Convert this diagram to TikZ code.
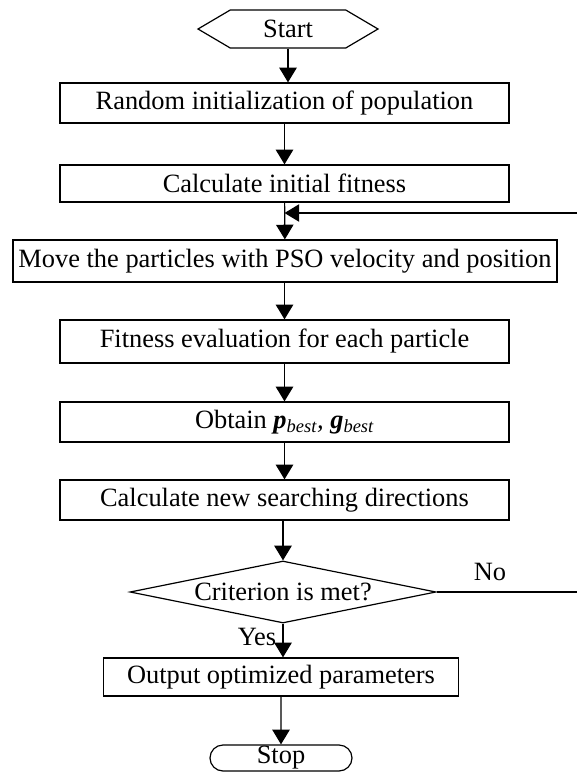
\documentclass[tikz,border=0pt]{standalone}
\usepackage{fontspec}
\setmainfont{Liberation Serif}
\usetikzlibrary{arrows.meta,shapes.geometric,shapes.misc,shapes.symbols,positioning}

\newcommand{\flowfont}{\fontsize{19.8}{22.5}\selectfont}
\tikzset{
  flowline/.style={line width=0.9pt},
  flowarrow/.style={flowline, -{Triangle[length=11pt,width=13pt]}},
  procbox/.style={draw, flowline, inner sep=0pt, font=\flowfont, minimum width=336.75pt, minimum height=30pt},
  termhex/.style={draw, flowline, signal, signal to=west and east, signal pointer angle=61, inner sep=0pt, font=\flowfont, minimum width=135pt, minimum height=28.5pt},
  termstop/.style={draw, flowline, rounded rectangle, inner sep=0pt, font=\flowfont, minimum width=106.5pt, minimum height=19.5pt},
  decide/.style={draw, flowline, diamond, shape aspect=5.3, inner sep=0pt, font=\flowfont, minimum width=229.5pt, minimum height=46.5pt},
}

\begin{document}
\begin{tikzpicture}[x=0.75pt,y=0.75pt,yscale=-1,xscale=1]
\useasboundingbox (0,0) rectangle (577,772);

%Shape: Hexagon
\node[termhex] (start) at (288,29) {Start};
%Shape: Rectangle
\node[procbox, minimum height=30pt] (init) at (284.5,103) {Random initialization of population};
%Shape: Rectangle
\node[procbox, minimum height=27.75pt] (fitinit) at (284.5,183.5) {Calculate initial fitness};
%Shape: Rectangle
\node[procbox, minimum width=408pt, minimum height=31.5pt] (move) at (285,261) {Move the particles with PSO velocity and position};
%Shape: Rectangle
\node[procbox, minimum height=32.25pt] (fiteval) at (284.5,341.5) {Fitness evaluation for each particle};
%Shape: Rectangle
\node[procbox] (best) at (284.5,422) {Obtain {\bfseries\itshape p}\textsubscript{\itshape best}{\itshape ,} {\bfseries\itshape g}\textsubscript{\itshape best}};
%Shape: Rectangle
\node[procbox] (search) at (284.5,500) {Calculate new searching directions};
%Shape: Diamond
\node[decide] (crit) at (283,592) {Criterion is met?};
%Shape: Rectangle
\node[procbox, minimum width=266pt, minimum height=28.5pt] (output) at (281,677) {Output optimized parameters};
%Shape: Rounded Rect
\node[termstop] (stop) at (281,758) {Stop};

%Straight Lines
\draw[flowarrow] (start.south) -- (start.south |- init.north);
\draw[flowarrow] (init) -- (fitinit);
\draw[flowarrow] (fitinit) -- (move);
\draw[flowarrow] (move.south -| fiteval) -- (fiteval);
\draw[flowarrow] (fiteval) -- (best);
\draw[flowarrow] (best) -- (search);
\draw[flowarrow] (search.south -| crit) -- (crit);
\draw[flowarrow] (crit) -- (crit |- output.north);
\draw[flowarrow] (output) -- (stop);

% loop back
\coordinate (noEnd) at (577,592);
\coordinate (backEnd) at (577,213);
\draw[flowline] (crit.east) -- (noEnd);
\draw[flowarrow] (backEnd) -- (backEnd -| fitinit.south);

% Text Node
\node[font=\flowfont] (no) at (490,572) {No};
% Text Node
\node[font=\flowfont] (yes) at (257,637) {Yes};

\end{tikzpicture}
\end{document}
